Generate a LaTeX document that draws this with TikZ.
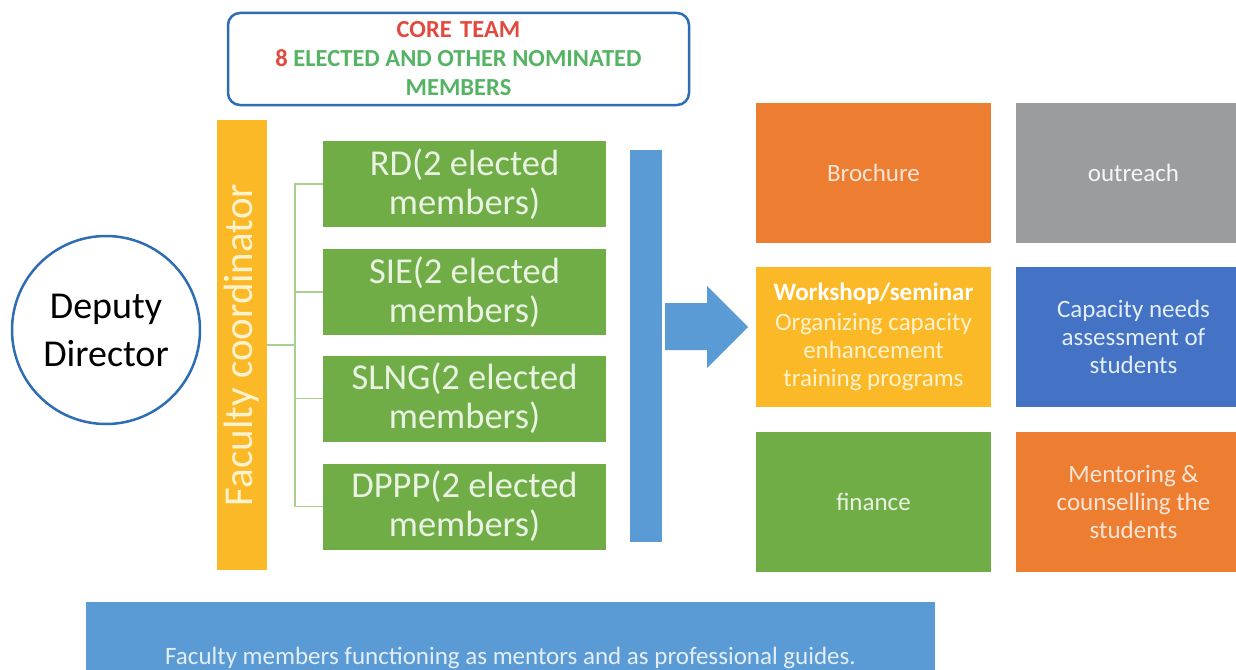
\documentclass[tikz,border=0pt]{standalone}
\usepackage{fontspec}
\setmainfont{Carlito}
\definecolor{ogreen}{HTML}{70AD47}
\definecolor{oorange}{HTML}{ED7D31}
\definecolor{ogray}{HTML}{9B9C9D}
\definecolor{ogold}{HTML}{FBB927}
\definecolor{oblue}{HTML}{4472C4}
\definecolor{lblue}{HTML}{5B9BD5}
\definecolor{rimblue}{HTML}{2E6DB4}
\definecolor{connc}{HTML}{A9D18E}
\definecolor{redt}{HTML}{E04A3F}
\definecolor{greent}{HTML}{55B463}
\definecolor{gtxt}{HTML}{E9F3E2}
\definecolor{otxt}{HTML}{FBE5D6}
\definecolor{ytxt}{HTML}{FFF2CC}
\definecolor{btxt}{HTML}{E3EEF8}
\begin{document}
\begin{tikzpicture}[x=1pt,y=-1pt,
  member/.style={rectangle, fill=ogreen, text=gtxt, inner sep=0pt, align=center,
    minimum width=283, minimum height=86, font=\fontsize{36.5}{39}\selectfont},
  tile/.style={rectangle, inner sep=0pt, align=center, text=white,
    minimum width=235, minimum height=140, font=\fontsize{25}{28}\selectfont},
  conn/.style={draw=connc, line width=1.3pt}]
\useasboundingbox (0,0) rectangle (1236,669);
\clip (0,0) rectangle (1236,669);
\fill[white] (0,0) rectangle (1236,669);

% core team
\node[draw=rimblue, line width=2.5pt, rounded corners=12pt, minimum width=461, minimum height=92,
  inner sep=0pt, align=center, font=\fontsize{24.5}{29}\selectfont\bfseries] (core) at (458.5,59)
  {\textcolor{redt}{CORE\hspace{0.12em} TEAM}\\\textcolor{redt}{8} \textcolor{greent}{ELECTED AND OTHER NOMINATED}\\\textcolor{greent}{MEMBERS}};

% deputy director
\node[circle, draw=rimblue, line width=2.5pt, minimum size=188, inner sep=0pt, align=center,
  font=\fontsize{38}{48}\selectfont] (dep) at (106,330) {Deputy\\Director};

% faculty coordinator bar
\node[rectangle, fill=ogold, minimum width=50, minimum height=450, inner sep=0pt] (bar) at (242,345) {};
\node[rotate=90, text=ytxt, font=\fontsize{41}{44}\selectfont, inner sep=0pt] (fctext) at (bar.center) {Faculty coordinator};

% members
\node[member] (rd) at (464.5,184) {RD(2 elected\\members)};
\node[member] (sie) at (464.5,292) {SIE(2 elected\\members)};
\node[member] (slng) at (464.5,398.5) {SLNG(2 elected\\members)};
\node[member] (dppp) at (464.5,506.5) {DPPP(2 elected\\members)};

% connectors
\coordinate (jn) at (295,345);
\draw[conn] (bar.east) -- (jn);
\draw[conn] (rd.west) -| (jn);
\draw[conn] (sie.west) -| (jn);
\draw[conn] (slng.west) -| (jn);
\draw[conn] (dppp.west) -| (jn);

% blue bar and block arrow
\node[rectangle, fill=lblue, minimum width=32, minimum height=392, inner sep=0pt] (bbar) at (646,346) {};
\fill[lblue] (665,303) -- (707,303) -- (707,286) -- (748,327) -- (707,368) -- (707,350) -- (665,350) -- cycle;

% tiles
\node[tile, fill=oorange, text=otxt] (bro) at (873.5,173) {Brochure};
\node[tile, fill=ogray, text=white!93!gray] (out) at (1133.5,173) {outreach};
\node[tile, fill=ogold, text=ytxt] (work) at (873.5,337)
  {\textcolor{white}{\bfseries Workshop/seminar}\\[2pt]Organizing capacity\\enhancement\\training programs};
\node[tile, fill=oblue, text=btxt] (cap) at (1133.5,337) {Capacity needs\\assessment of\\students};
\node[tile, fill=ogreen, text=gtxt] (fin) at (873.5,502) {finance};
\node[tile, fill=oorange, text=otxt] (men) at (1133.5,502) {Mentoring \&\\counselling the\\students};

% banner
\node[rectangle, fill=lblue, text=btxt, minimum width=849, minimum height=112, inner sep=0pt,
  font=\fontsize{25}{28}\selectfont] (ban) at (510.5,658) {Faculty members functioning as mentors and as professional guides.};
\end{tikzpicture}
\end{document}
